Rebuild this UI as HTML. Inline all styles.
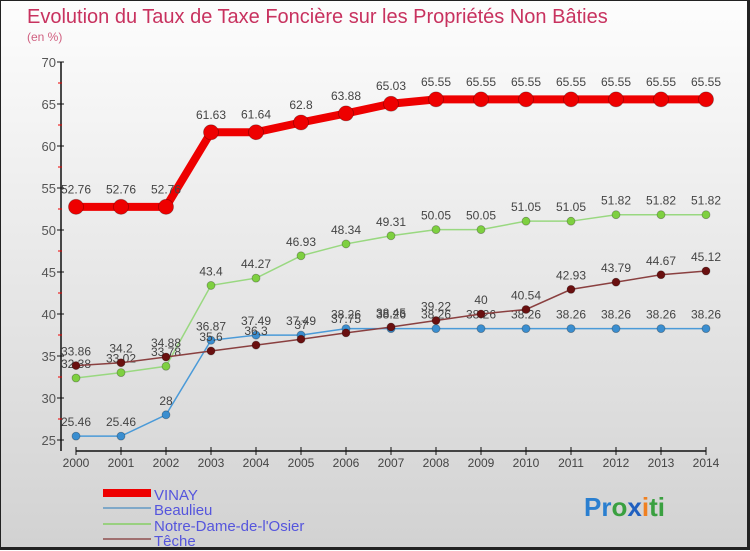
<!DOCTYPE html>
<html><head><meta charset="utf-8"><style>
body{margin:0;width:750px;height:550px;overflow:hidden}
#wrap{position:relative;width:750px;height:550px;background:linear-gradient(#fdfdfd,#d2d2d2);box-sizing:border-box;border:1px solid #222;border-right:3px solid #222;border-bottom:3px solid #222}
text{font-family:"Liberation Sans",sans-serif}
</style></head><body>
<div id="wrap">
<svg id="chart" width="750" height="550" style="position:absolute;left:0;top:0">
<text x="26" y="22" font-size="20" fill="#c8325f">Evolution du Taux de Taxe Foncière sur les Propriétés Non Bâties</text>
<text x="26" y="40" font-size="12" fill="#d06080">(en %)</text>
<g id="axes"></g><g id="series"></g>
<g>
<rect x="102" y="488" width="48" height="8" fill="#e00"/>
<text x="153" y="499" font-size="15" fill="#5555dd">VINAY</text>
<rect x="102" y="506" width="48" height="2" fill="#7fa8c8"/>
<text x="153" y="514" font-size="15" fill="#5555dd">Beaulieu</text>
<rect x="102" y="522" width="48" height="2" fill="#99d080"/>
<text x="153" y="530" font-size="15" fill="#5555dd">Notre-Dame-de-l'Osier</text>
<rect x="102" y="537" width="48" height="2" fill="#a07070"/>
<text x="153" y="545" font-size="15" fill="#5555dd">Têche</text>
</g>
<text x="583" y="515" font-size="26" font-weight="bold"><tspan fill="#2a7fd0">Pr</tspan><tspan fill="#3aa040">o</tspan><tspan fill="#2060c0">x</tspan><tspan fill="#f08020">i</tspan><tspan fill="#3aa040">ti</tspan></text>
</svg>
</div>
<script>
const years=[2000,2001,2002,2003,2004,2005,2006,2007,2008,2009,2010,2011,2012,2013,2014];
const yTicks=[25,30,35,40,45,50,55,60,65,70];
const vinay=[52.76,52.76,52.76,61.63,61.64,62.8,63.88,65.03,65.55,65.55,65.55,65.55,65.55,65.55,65.55];
const beaulieu=[25.46,25.46,28,36.87,37.49,37.49,38.26,38.26,38.26,38.26,38.26,38.26,38.26,38.26,38.26];
const notreDame=[32.38,33.02,33.78,43.4,44.27,46.93,48.34,49.31,50.05,50.05,51.05,51.05,51.82,51.82,51.82];
const teche=[33.86,34.2,34.88,35.6,36.3,37,37.75,38.45,39.22,40,40.54,42.93,43.79,44.67,45.12];
const NS="http://www.w3.org/2000/svg";
const xs=i=>75+i*(705-75)/(years.length-1);
const ys=v=>61+(70-v)*8.4;
function mk(tag,attrs,parent){const e=document.createElementNS(NS,tag);for(const k in attrs)e.setAttribute(k,attrs[k]);parent.appendChild(e);return e;}
const ax=document.getElementById('axes');
let a=mk('line',{x1:60,y1:61,x2:60,y2:450,stroke:'#111','stroke-width':1.5},ax);


a=mk('line',{x1:75,y1:450,x2:705,y2:450,stroke:'#111','stroke-width':1.5},ax);


yTicks.forEach((t,i)=>{
  mk('line',{x1:56,y1:ys(t),x2:63,y2:ys(t),stroke:'#111'},ax);
  if(i<yTicks.length-1)mk('line',{x1:57,y1:ys(t+2.5),x2:61,y2:ys(t+2.5),stroke:'#e00'},ax);
  const tx=mk('text',{x:55,y:ys(t)+5,'font-size':13,fill:'#555','text-anchor':'end'},ax);
  tx.textContent=t;
  
  
});
years.forEach((y,i)=>{
  mk('line',{x1:xs(i),y1:446,x2:xs(i),y2:454,stroke:'#111'},ax);
  const tx=mk('text',{x:xs(i),y:466,'font-size':12,fill:'#444','text-anchor':'middle'},ax);
  tx.textContent=y;
  
  
});
const sg=document.getElementById('series');
function draw(data,name,color,lw,r,lineColor){
  const g=mk('g',{},sg);
  
  
  const p=mk('polyline',{points:data.map((v,i)=>xs(i)+','+ys(v)).join(' '),fill:'none',stroke:lineColor,'stroke-width':lw},g);
  
  
  data.forEach((v,i)=>{
    const c=mk('circle',{cx:xs(i),cy:ys(v),r:r,fill:color,stroke:'rgba(0,0,0,0.3)','stroke-width':0.8},g);
    
    
    const t=mk('text',{x:xs(i),y:ys(v)-(r+6),'font-size':12,fill:'#444','text-anchor':'middle'},g);
    t.textContent=String(v);
    
    
  });
}
draw(beaulieu,'beaulieu','#3a8ed0',1.5,4,'#4a9ad8');
draw(notreDame,'notre-dame','#7ed040',1.5,4,'#99d880');
draw(teche,'teche','#6a1010',1.5,4,'#8a4040');
draw(vinay,'vinay','#ee0000',8,7.5,'#ee0000');
</script>
</body></html>
